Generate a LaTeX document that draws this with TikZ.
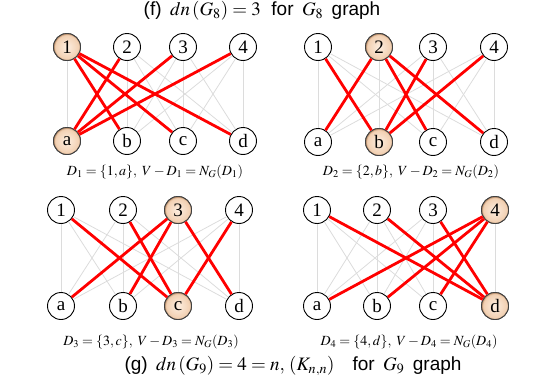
\documentclass[tikz,border=0pt]{standalone}
\usepackage{mathptmx}
\usepackage{fontspec}
\setmainfont{Liberation Serif}
\newfontfamily\titlefont{Liberation Sans}
\definecolor{pcA}{RGB}{253,238,224}
\definecolor{pcB}{RGB}{242,208,178}
\definecolor{pcC}{RGB}{185,138,100}
\pgfdeclareradialshading{peachball}{\pgfpoint{0bp}{0bp}}{color(0bp)=(pcA); color(22bp)=(pcB); color(25bp)=(pcC); color(100bp)=(pcC)}
\begin{document}
\begin{tikzpicture}[x=1pt,y=-1pt,
  vtx/.style={circle,draw=black,line width=0.9pt,fill=white,minimum size=27pt,inner sep=0pt,font=\fontsize{19}{19}\selectfont},
  hl/.style={vtx,draw=black!75,shading=peachball},
  gedge/.style={draw={rgb,255:red,220;green,220;blue,220},line width=0.8pt},
  redge/.style={draw={rgb,255:red,255;green,0;blue,0},line width=2.8pt},
  captxt/.style={font=\fontsize{14}{14}\selectfont},
  ttl/.style={font=\fontsize{19}{19}\selectfont\titlefont}]
\useasboundingbox (0,0) rectangle (555,375);
\node[ttl] (t1) at (262,11) {(f)\, $dn\,(G_8)=3$\ \ for\, $G_8$\, graph};
\node[ttl] (t2) at (293,366) {(g)\, $dn\,(G_9)=4=n,\,(K_{n,n})$\hspace{18pt}for\, $G_9$\, graph};
% panel 1
\foreach \n/\x in {1/67,2/127,3/183,4/243}{\node[vtx] (p1t\n) at (\x,47) {\n};}
\foreach \n/\x in {a/67,b/127,c/183,d/243}{\node[vtx] (p1b\n) at (\x,141) {\n};}
% panel 2
\foreach \n/\x in {1/318,2/379,3/433,4/494}{\node[vtx] (p2t\n) at (\x,47) {\n};}
\foreach \n/\x in {a/318,b/379,c/433,d/494}{\node[vtx] (p2b\n) at (\x,142) {\n};}
% panel 3
\foreach \n/\x in {1/61,2/123,3/178,4/239}{\node[vtx] (p3t\n) at (\x,210) {\n};}
\foreach \n/\x in {a/61,b/123,c/178,d/239}{\node[vtx] (p3b\n) at (\x,306) {\n};}
% panel 4
\foreach \n/\x in {1/317,2/377,3/433,4/495}{\node[vtx] (p4t\n) at (\x,210) {\n};}
\foreach \n/\x in {a/317,b/377,c/433,d/495}{\node[vtx] (p4b\n) at (\x,306) {\n};}
% highlighted
\node[hl] at (p1t1) {1}; \node[hl] at (p1ba) {a};
\node[hl] at (p2t2) {2}; \node[hl] at (p2bb) {b};
\node[hl] at (p3t3) {3}; \node[hl] at (p3bc) {c};
\node[hl] at (p4t4) {4}; \node[hl] at (p4bd) {d};
% gray edges K44
\foreach \p in {1,2,3,4}{
  \foreach \u in {1,2,3,4}{
    \foreach \v in {a,b,c,d}{
      \draw[gedge] (p\p t\u) -- (p\p b\v);
    }}}
% red edges
\foreach \v in {b,c,d}{\draw[redge] (p1t1) -- (p1b\v);}
\foreach \u in {2,3,4}{\draw[redge] (p1ba) -- (p1t\u);}
\foreach \v in {a,c,d}{\draw[redge] (p2t2) -- (p2b\v);}
\foreach \u in {1,3,4}{\draw[redge] (p2bb) -- (p2t\u);}
\foreach \v in {a,b,d}{\draw[redge] (p3t3) -- (p3b\v);}
\foreach \u in {1,2,4}{\draw[redge] (p3bc) -- (p3t\u);}
\foreach \v in {a,b,c}{\draw[redge] (p4t4) -- (p4b\v);}
\foreach \u in {1,2,3}{\draw[redge] (p4bd) -- (p4t\u);}
% captions
\node[captxt] (c1) at (155,172) {$D_1=\{1,a\},\ V-D_1=N_G(D_1)$};
\node[captxt] (c2) at (411,172) {$D_2=\{2,b\},\ V-D_2=N_G(D_2)$};
\node[captxt] (c3) at (151,342) {$D_3=\{3,c\},\ V-D_3=N_G(D_3)$};
\node[captxt] (c4) at (409,342) {$D_4=\{4,d\},\ V-D_4=N_G(D_4)$};
\end{tikzpicture}
\end{document}
